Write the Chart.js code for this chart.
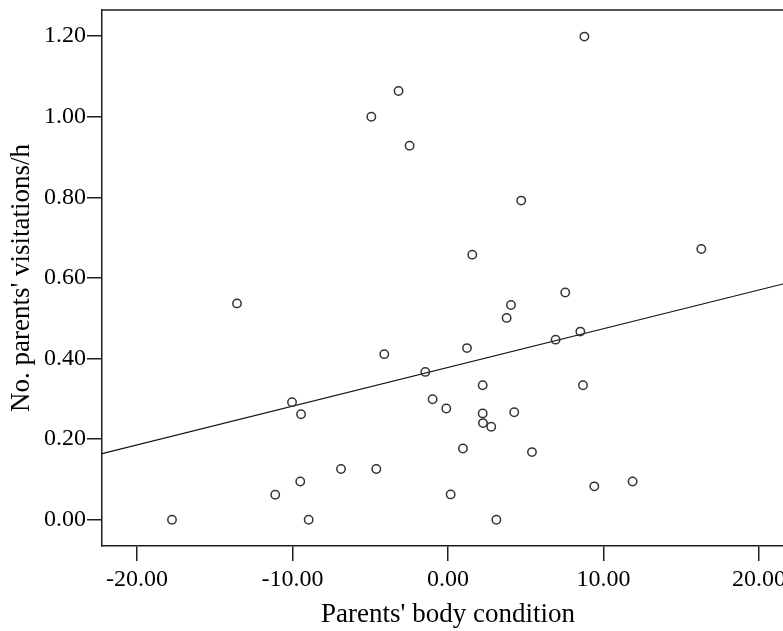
<!DOCTYPE html>
<html>
<head>
<meta charset="utf-8">
<script src="https://cdn.jsdelivr.net/npm/chart.js@4.4.1/dist/chart.umd.min.js"></script>
<style>
html,body{margin:0;padding:0;overflow:hidden;background:#fff;width:783px;height:631px}
canvas{display:block}
</style>
</head>
<body>
<canvas id="c" width="800" height="631"></canvas>
<script>
// Data
const bodyCondition = [-17.75, -13.57, -11.11, -10.03, -9.45, -9.50, -8.96, -6.88, -4.93, -4.61,
  -4.10, -3.18, -2.47, -1.46, -0.99, -0.11, 0.17, 0.96, 1.22, 1.56,
  2.23, 2.23, 2.25, 2.78, 3.11, 3.77, 4.05, 4.26, 4.71, 5.40,
  6.92, 7.54, 8.51, 8.68, 8.77, 9.41, 11.87, 16.29];
const visitations = [0.000, 0.537, 0.062, 0.292, 0.262, 0.095, 0.000, 0.126, 1.000, 0.126,
  0.411, 1.064, 0.928, 0.367, 0.299, 0.276, 0.063, 0.177, 0.426, 0.658,
  0.334, 0.264, 0.240, 0.231, 0.000, 0.501, 0.533, 0.267, 0.792, 0.168,
  0.447, 0.564, 0.467, 0.334, 1.199, 0.083, 0.095, 0.672];
// Fit line endpoints
const fitLineX = [-22.25, 22.25];
const fitLineY = [0.164, 0.592];
// Axis ticks
const xTickValues = [-20, -10, 0, 10, 20];
const yTickValues = [0, 0.2, 0.4, 0.6, 0.8, 1.0, 1.2];
const xTitle = "Parents' body condition";
const yTitle = "No. parents' visitations/h";

const FONT = '"Liberation Serif", "Times New Roman", serif';
const AXIS = '#1e1e1e';

const points = bodyCondition.map((x, i) => ({x: x, y: visitations[i]}));
const fit = fitLineX.map((x, i) => ({x: x, y: fitLineY[i]}));

const framePlugin = {
  id: 'frame',
  afterDraw(chart) {
    const {ctx, chartArea: a} = chart;
    ctx.save();
    ctx.strokeStyle = AXIS;
    ctx.lineWidth = 1.5;
    ctx.beginPath();
    ctx.moveTo(a.left, a.top);
    ctx.lineTo(a.right, a.top);
    ctx.lineTo(a.right, a.bottom);
    ctx.stroke();
    ctx.restore();
  }
};

function zeroPad(scale) {
  scale.paddingTop = 0; scale.paddingBottom = 0;
  scale.paddingLeft = 0; scale.paddingRight = 0;
}

new Chart(document.getElementById('c'), {
  type: 'scatter',
  data: {
    datasets: [
      {
        data: points,
        pointStyle: 'circle',
        pointRadius: 4.2,
        pointBorderWidth: 1.5,
        borderColor: '#333',
        backgroundColor: 'rgba(255,255,255,0)',
        order: 1
      },
      {
        data: fit,
        showLine: true,
        borderColor: '#111',
        borderWidth: 1.2,
        pointRadius: 0,
        fill: false,
        order: 2
      }
    ]
  },
  plugins: [framePlugin],
  options: {
    responsive: false,
    animation: false,
    devicePixelRatio: 1,
    layout: {padding: {top: 10, right: 6, bottom: 0, left: 0}},
    plugins: {legend: {display: false}, tooltip: {enabled: false}},
    scales: {
      x: {
        type: 'linear',
        min: -22.25,
        max: 22.25,
        afterBuildTicks(scale) { scale.ticks = xTickValues.map(v => ({value: v})); },
        afterFit(scale) { scale.height = 85; zeroPad(scale); },
        ticks: {
          callback: v => Number(v).toFixed(2),
          color: '#000',
          font: {family: FONT, size: 24},
          padding: 4,
          maxRotation: 0
        },
        grid: {display: true, drawOnChartArea: false, drawTicks: true, tickLength: 15, color: AXIS, lineWidth: 1.5},
        border: {display: true, color: AXIS, width: 1.5},
        title: {display: true, text: xTitle, color: '#000', font: {family: FONT, size: 27}, padding: {top: 0, bottom: 0}}
      },
      y: {
        type: 'linear',
        min: -0.065,
        max: 1.265,
        afterBuildTicks(scale) { scale.ticks = yTickValues.map(v => ({value: v})); },
        afterFit(scale) { scale.width = 102; zeroPad(scale); },
        ticks: {
          callback: v => Number(v).toFixed(2),
          color: '#000',
          font: {family: FONT, size: 24},
          padding: 1
        },
        grid: {display: true, drawOnChartArea: false, drawTicks: true, tickLength: 15, color: AXIS, lineWidth: 1.5},
        border: {display: true, color: AXIS, width: 1.5},
        title: {display: true, text: yTitle, color: '#000', font: {family: FONT, size: 27}, padding: {top: 6, bottom: 0}}
      }
    }
  }
});
</script>
</body>
</html>
